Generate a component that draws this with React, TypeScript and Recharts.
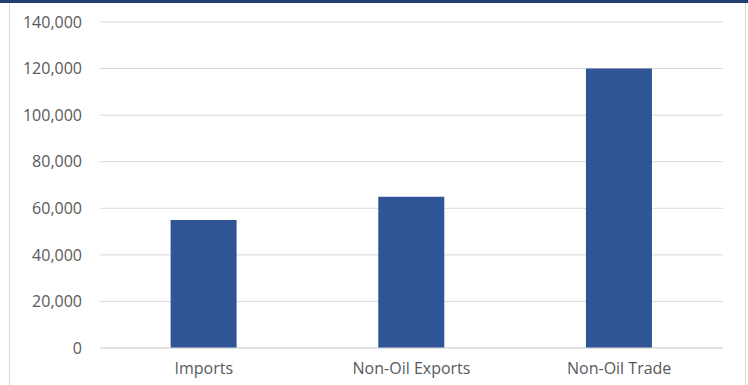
import React from 'react';
import { BarChart, Bar, XAxis, YAxis, CartesianGrid } from 'recharts';

const categories = ['Imports', 'Non-Oil Exports', 'Non-Oil Trade'];
const values = [55000, 65000, 120000];
const yTicks = [0, 20000, 40000, 60000, 80000, 100000, 120000, 140000];

const data = categories.map((name, i) => ({ name, value: values[i] }));

const fmt = (v: number) => v.toLocaleString('en-US');

const App: React.FC = () => {
  const tickStyle = { fill: '#595959', fontSize: 16, fontFamily: 'Open Sans' };
  return (
    <div
      style={{
        position: 'absolute',
        left: 0,
        top: 0,
        width: 748,
        height: 385,
        background: '#fff',
        borderTop: '3px solid #203f6e',
        boxSizing: 'border-box',
        overflow: 'hidden',
      }}
    >
      <div style={{ position: 'absolute', left: 9, top: 0, width: 1, height: 382, background: '#d9d9d9' }} />
      <div style={{ position: 'absolute', left: 745, top: 0, width: 1, height: 382, background: '#d9d9d9' }} />
      <BarChart
        width={748}
        height={382}
        data={data}
        margin={{ top: 19, right: 25, bottom: 7, left: 0 }}
        barCategoryGap="34%"
      >
        <CartesianGrid vertical={false} stroke="#d9d9d9" strokeWidth={1} />
        <XAxis
          dataKey="name"
          axisLine={{ stroke: '#d9d9d9' }}
          tickLine={false}
          tick={tickStyle}
          tickMargin={9}
          height={30}
        />
        <YAxis
          width={100}
          domain={[0, 140000]}
          ticks={yTicks}
          tickFormatter={fmt}
          axisLine={false}
          tickLine={false}
          tick={tickStyle}
          tickMargin={12}
        />
        <Bar dataKey="value" fill="#2f5597" isAnimationActive={false} />
      </BarChart>
    </div>
  );
};

export default App;
